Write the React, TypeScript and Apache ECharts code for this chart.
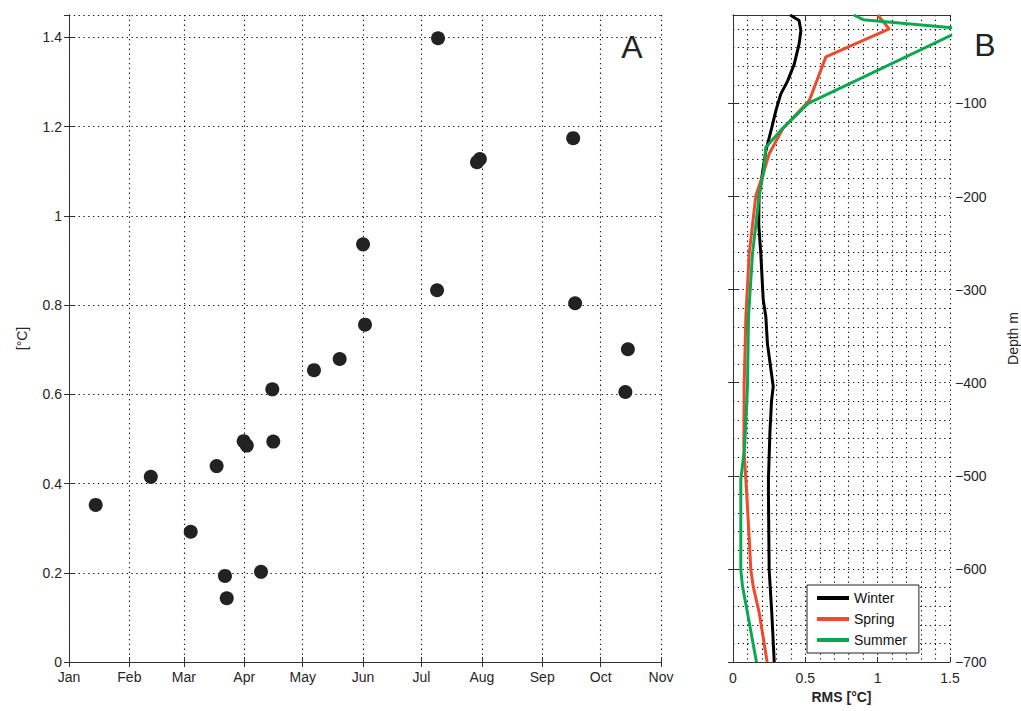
import React, { useEffect, useRef } from "react";
import * as echarts from "echarts";

// Panel A: day of year (Jan 1 = 0) and temperature RMS
const monthStarts = [0, 31, 59, 90, 120, 151, 181, 212, 243, 273, 304];
const monthLabels = ["Jan", "Feb", "Mar", "Apr", "May", "Jun", "Jul", "Aug", "Sep", "Oct", "Nov"];
const aDays = [13.7, 42, 62.5, 75.8, 80.1, 81, 89.7, 91.3, 98.6, 104.4, 104.9, 125.8, 139, 152, 151, 189, 189.5, 209.5, 211, 258.9, 259.9, 287, 285.7];
const aValues = [0.352, 0.415, 0.292, 0.439, 0.193, 0.143, 0.495, 0.485, 0.202, 0.611, 0.494, 0.654, 0.679, 0.756, 0.936, 0.833, 1.398, 1.12, 1.127, 1.174, 0.804, 0.701, 0.605];
const aYTicks = [0, 1.45, 0.2];

// Panel B: RMS profiles vs depth
const winterDepth = [-5, -11, -22, -36, -58, -76, -90, -108, -126, -151, -199, -230, -261, -311, -329, -358, -404, -420, -454, -504, -522, -601, -647, -700];
const winterRms = [0.395, 0.457, 0.469, 0.457, 0.423, 0.377, 0.33, 0.296, 0.268, 0.227, 0.18, 0.178, 0.192, 0.209, 0.227, 0.238, 0.278, 0.266, 0.255, 0.245, 0.245, 0.25, 0.268, 0.285];
const springDepth = [-5, -20, -50, -97, -127, -154, -175, -199, -261, -329, -404, -470, -504, -561, -601, -619, -647, -700];
const springRms = [1.0, 1.08, 0.642, 0.527, 0.345, 0.25, 0.21, 0.158, 0.112, 0.089, 0.077, 0.075, 0.089, 0.11, 0.123, 0.14, 0.181, 0.236];
const summerDepth = [-5, -10, -20, -100, -127, -147, -172, -199, -261, -329, -404, -470, -504, -601, -619, -647, -700];
const summerRms = [0.835, 0.9, 1.6, 0.52, 0.342, 0.227, 0.213, 0.181, 0.135, 0.107, 0.1, 0.08, 0.054, 0.054, 0.066, 0.1, 0.162];
const seriesNames = ["Winter", "Spring", "Summer"];
const seriesColors = ["#000000", "#ef4a2b", "#0aa84f"];

const FONT = "'Liberation Sans', Arial, sans-serif";
const dotted = { color: "#111", type: [1.3, 3.5], width: 1.1 };
const gridLine = { show: true, lineStyle: dotted };
const axisLine = { show: true, lineStyle: { color: "#333", width: 1 } };
const labelStyle = { color: "#262626", fontSize: 14, fontFamily: FONT };

export default function App() {
  const ref = useRef<HTMLDivElement>(null);
  useEffect(() => {
    if (!ref.current) return;
    const chart = echarts.init(ref.current, null, { renderer: "svg" });
    const zip = (xs: number[], ys: number[]) => xs.map((x, i) => [x, ys[i]]);
    const profiles = [
      zip(winterRms, winterDepth),
      zip(springRms, springDepth),
      zip(summerRms, summerDepth),
    ];
    chart.setOption({
      animation: false,
      textStyle: { fontFamily: FONT },
      grid: [
        { left: 69, right: 360, top: 15, bottom: 49 },
        { left: 733, right: 71, top: 15, bottom: 49 },
      ],
      xAxis: [
        {
          type: "value", gridIndex: 0, position: "bottom", min: monthStarts[0], max: monthStarts[monthStarts.length - 1],
          axisLine, axisTick: { show: true, inside: true, length: 5, customValues: monthStarts, lineStyle: { color: "#333" } },
          axisLabel: { ...labelStyle, margin: 8, customValues: monthStarts, formatter: (v: number) => monthLabels[monthStarts.indexOf(v)] ?? "" },
          splitLine: gridLine,
        },
        {
          type: "value", gridIndex: 0, position: "top", min: monthStarts[0], max: monthStarts[monthStarts.length - 1],
          axisLine, axisTick: { show: true, inside: true, length: 5, customValues: monthStarts, lineStyle: { color: "#333" } },
          axisLabel: { show: false }, splitLine: { show: false },
        },
        {
          type: "value", gridIndex: 1, position: "bottom", min: 0, max: 1.5, interval: 0.5,
          name: "RMS [°C]", nameLocation: "middle", nameGap: 28,
          nameTextStyle: { fontSize: 14, fontWeight: "bold", color: "#262626", fontFamily: FONT },
          axisLine, axisTick: { show: true, inside: true, length: 5, lineStyle: { color: "#333" } },
          axisLabel: { ...labelStyle, margin: 9 },
          splitLine: gridLine,
          minorTick: { show: false, splitNumber: 5 },
          minorSplitLine: { show: true, lineStyle: dotted },
        },
        {
          type: "value", gridIndex: 1, position: "top", min: 0, max: 1.5, interval: 0.5,
          axisLine, axisTick: { show: true, inside: true, length: 5, lineStyle: { color: "#333" } },
          axisLabel: { show: false }, splitLine: { show: false },
        },
      ],
      yAxis: [
        {
          type: "value", gridIndex: 0, position: "left", min: aYTicks[0], max: aYTicks[1], interval: aYTicks[2],
          name: "[°C]", nameLocation: "middle", nameGap: 40,
          nameTextStyle: { fontSize: 14, color: "#262626", fontFamily: FONT },
          axisLine, axisTick: { show: true, inside: true, length: 5, lineStyle: { color: "#333" } },
          axisLabel: { ...labelStyle, margin: 7, showMaxLabel: false, formatter: (v: number) => String(Math.round(v * 10) / 10) },
          splitLine: gridLine,
        },
        {
          type: "value", gridIndex: 0, position: "right", min: aYTicks[0], max: aYTicks[1], interval: aYTicks[2],
          axisLine, axisTick: { show: true, inside: true, length: 5, lineStyle: { color: "#333" } },
          axisLabel: { show: false }, splitLine: { show: false },
        },
        {
          type: "value", gridIndex: 1, position: "right", min: -700, max: -5, interval: 100,
          name: "Depth m", nameLocation: "middle", nameGap: 56, nameRotate: 90,
          nameTextStyle: { fontSize: 14, color: "#262626", fontFamily: FONT },
          axisLine, axisTick: { show: true, inside: true, length: 5, lineStyle: { color: "#333" } },
          axisLabel: { ...labelStyle, margin: 5, showMaxLabel: false, formatter: (v: number) => String(v).replace("-", "\u2212") },
          splitLine: gridLine,
          minorTick: { show: false, splitNumber: 5 },
          minorSplitLine: { show: true, lineStyle: dotted },
        },
        {
          type: "value", gridIndex: 1, position: "left", min: -700, max: -5, interval: 100,
          axisLine, axisTick: { show: true, inside: true, length: 5, lineStyle: { color: "#333" } },
          axisLabel: { show: false }, splitLine: { show: false },
        },
      ],
      legend: {
        data: seriesNames,
        orient: "vertical",
        left: 807, top: 585,
        icon: "rect", itemWidth: 32, itemHeight: 4, itemGap: 7,
        padding: [6, 12, 6, 10],
        borderColor: "#222", borderWidth: 1, backgroundColor: "#fff",
        textStyle: { fontSize: 14, color: "#111", fontFamily: FONT },
      },
      graphic: [
        { type: "text", x: 632, y: 47, style: { text: "A", fontSize: 32, fill: "#222", fontFamily: FONT, textAlign: "center", textVerticalAlign: "middle" } },
        { type: "text", x: 985, y: 45, style: { text: "B", fontSize: 32, fill: "#222", fontFamily: FONT, textAlign: "center", textVerticalAlign: "middle" } },
      ],
      series: [
        {
          type: "scatter", xAxisIndex: 0, yAxisIndex: 0,
          data: zip(aDays, aValues), symbolSize: 14, itemStyle: { color: "#222", opacity: 1 },
        },
        ...seriesNames.map((name, i) => ({
          name, type: "line", xAxisIndex: 2, yAxisIndex: 2,
          data: profiles[i], showSymbol: false, clip: true,
          lineStyle: { color: seriesColors[i], width: 3 }, itemStyle: { color: seriesColors[i] },
        })),
      ],
    });
    return () => chart.dispose();
  }, []);
  return <div ref={ref} style={{ position: "absolute", left: 0, top: 0, width: 1021, height: 711 }} />;
}
